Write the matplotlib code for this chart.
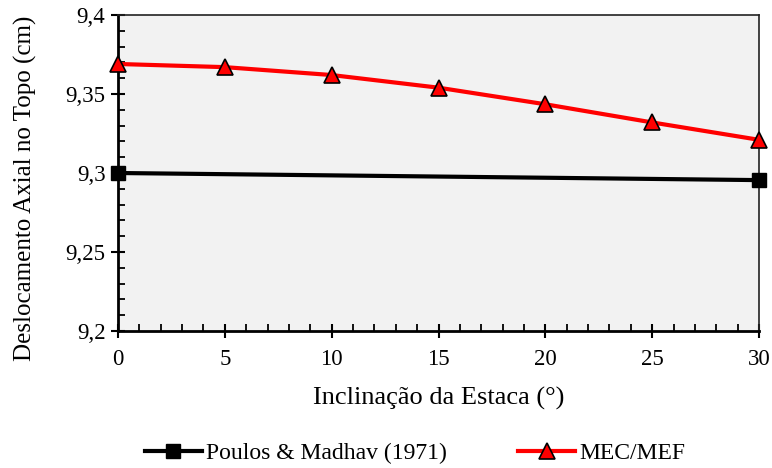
import matplotlib
matplotlib.use("Agg")
import matplotlib.pyplot as plt
from matplotlib.ticker import MultipleLocator, FuncFormatter

plt.rcParams['font.family'] = ['Liberation Serif', 'DejaVu Serif']

x_poulos = [0, 30]
y_poulos = [9.300, 9.2955]
x_mec = [0, 5, 10, 15, 20, 25, 30]
y_mec = [9.369, 9.367, 9.362, 9.354, 9.3435, 9.332, 9.321]

fig = plt.figure(figsize=(7.72, 4.68), dpi=100)
ax = fig.add_axes([118/772, 1-331/468, (759-118)/772, (331-15)/468])
ax.set_facecolor('#f2f2f2')

ax.plot(x_poulos, y_poulos, color='black', lw=3, marker='s', ms=10,
        mfc='black', mec='black', label='Poulos & Madhav (1971)', clip_on=False, zorder=3)
ax.plot(x_mec, y_mec, color='#ff0000', lw=3, marker='^', ms=11,
        mfc='#ff0000', mec='black', mew=1.2, label='MEC/MEF', clip_on=False, zorder=4)

ax.set_xlim(0, 30)
ax.set_ylim(9.2, 9.4)
ax.xaxis.set_major_locator(MultipleLocator(5))
ax.xaxis.set_minor_locator(MultipleLocator(1))
ax.yaxis.set_major_locator(MultipleLocator(0.05))
ax.yaxis.set_minor_locator(MultipleLocator(0.01))
ax.yaxis.set_major_formatter(FuncFormatter(lambda v, p: ('%g' % round(v, 3)).replace('.', ',')))
ax.tick_params(which='major', direction='inout', length=10, width=1.5, labelsize=16.5)
ax.tick_params(axis='x', which='major', pad=8)
ax.tick_params(axis='y', which='major', pad=4)
ax.tick_params(which='minor', direction='in', length=5, width=1.3)
for s in ['left', 'bottom']:
    ax.spines[s].set_linewidth(2)
    ax.spines[s].set_color('black')
for s in ['top', 'right']:
    ax.spines[s].set_linewidth(1.2)
    ax.spines[s].set_color('#222222')

ax.set_xlabel('Inclinação da Estaca (°)', fontsize=19, labelpad=12)
ax.set_ylabel('Deslocamento Axial no Topo (cm)', fontsize=18, labelpad=8)
ax.yaxis.set_label_coords(-0.127, 0.45)

fig.legend(loc='center', bbox_to_anchor=(0.538, 1-453/468), ncol=2, frameon=False,
           fontsize=17, handlelength=2.4, columnspacing=3.0, handletextpad=0.2)

fig.savefig('out.png', dpi=100)
